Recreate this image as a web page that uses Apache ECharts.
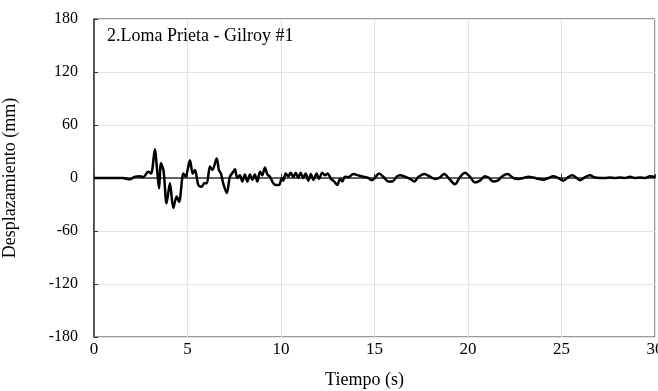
<!DOCTYPE html>
<html>
<head>
<meta charset="utf-8">
<script src="https://cdn.jsdelivr.net/npm/echarts@6/dist/echarts.min.js"></script>
<style>
  html, body { margin: 0; padding: 0; background: #fff; }
  #chart { width: 658px; height: 391px; }
</style>
</head>
<body>
<div id="chart"></div>
<script>
// tiempo (s) y desplazamiento (mm)
var tiempo = [0, 0.5, 1.0, 1.55, 1.9, 2.2, 2.46, 2.64, 2.9, 3.05, 3.26, 3.35, 3.48, 3.58, 3.72, 3.88, 4.06, 4.24, 4.42, 4.55, 4.78, 4.9, 5.13, 5.28, 5.4, 5.58, 5.76, 5.9, 6.03, 6.2, 6.33, 6.56, 6.68, 6.79, 6.91, 7.1, 7.27, 7.45, 7.54, 7.66, 7.8, 7.93, 8.07, 8.2, 8.34, 8.47, 8.6, 8.73, 8.88, 9.0, 9.14, 9.27, 9.41, 9.59, 9.73, 9.9, 10.04, 10.12, 10.25, 10.39, 10.52, 10.66, 10.79, 10.92, 11.05, 11.19, 11.32, 11.46, 11.6, 11.73, 11.91, 12.03, 12.21, 12.35, 12.5, 12.67, 12.85, 13.01, 13.16, 13.28, 13.42, 13.6, 13.87, 14.13, 14.4, 14.67, 14.85, 15.02, 15.24, 15.47, 15.74, 15.95, 16.19, 16.36, 16.63, 16.9, 17.13, 17.34, 17.66, 17.97, 18.24, 18.45, 18.73, 19.04, 19.3, 19.57, 19.84, 20.1, 20.37, 20.64, 20.9, 21.1, 21.35, 21.59, 21.8, 22.12, 22.42, 22.69, 22.96, 23.23, 23.5, 23.76, 24.03, 24.3, 24.56, 24.83, 25.1, 25.36, 25.58, 25.81, 25.99, 26.26, 26.52, 26.79, 27.06, 27.33, 27.59, 27.86, 28.13, 28.4, 28.66, 28.93, 29.2, 29.47, 29.73, 30];
var desplazamiento = [0, 0, 0, 0, -1.5, 1.5, 2, 1, 7, 5, 32.5, 15, -12, 16.6, 8, -28.7, -6, -34, -21, -27, 5, 1.5, 20, 5, 9, -8, -10, -6, -6, 13, 9, 22, 9, 5, -6, -17, 1.5, 7, 10, 0, 3, -4, 4, -4, 4, -2, 4, -4, 7, 3, 12, 4, 1.5, -6, -8, -8, 0, -3, 5, 2, 6, 1, 6, 0, 6, 0, 5, -3, 4.5, -2, 5, -1, 6, 3, 5, -1, -4, -8, -1, -4, 1.5, 1, 4.5, 3, 1.5, 0, -2.5, 0, 5, 1.5, -4, -4, 1.5, 3, 1.5, -1, -4, 1, 4.5, 1.5, -1, 0, 4.5, -2, -7, 1, 6, 1.5, -5, -3, 2, 0.5, -4, -3, 1.5, 4.5, 0, -1, 0, 1.5, 0.5, -1, -2, 0, 2, 0, -3, 1, 3, 0, -2.5, 1, 3, 0.5, 0, 0, 0.5, 0, 0.5, 0, 1.5, 0, 0.5, 0, 2, 1.5];
var yTicks = [-180, -120, -60, 0, 60, 120, 180];
var xTicks = [0, 5, 10, 15, 20, 25, 30];

var puntos = tiempo.map(function (t, i) { return [t, desplazamiento[i]]; });
var fuente = 'Liberation Serif, Times New Roman, serif';

var chart = echarts.init(document.getElementById('chart'));
chart.setOption({
  animation: false,
  backgroundColor: '#fff',
  title: {
    text: '2.Loma Prieta - Gilroy #1',
    left: 102, top: 22,
    textStyle: { fontFamily: fuente, fontSize: 18, fontWeight: 'normal', color: '#000' }
  },
  grid: {
    left: 94, right: 3, top: 19, bottom: 54,
    outerBoundsMode: 'none', containLabel: false,
    show: true, borderColor: '#333', borderWidth: 1
  },
  xAxis: {
    type: 'value',
    min: xTicks[0], max: xTicks[xTicks.length - 1], interval: 5,
    name: 'Tiempo (s)', nameLocation: 'middle', nameGap: 34,
    nameTextStyle: { fontFamily: fuente, fontSize: 18, color: '#000', padding: [0, 20, 0, 0] },
    axisLine: { lineStyle: { color: '#333', width: 1.5 } },
    axisTick: { inside: true, length: 4, lineStyle: { color: '#333' } },
    axisLabel: { fontFamily: fuente, fontSize: 17, color: '#000', margin: 4 },
    splitLine: { show: true, lineStyle: { color: '#e3e3e3', width: 1 } }
  },
  yAxis: {
    type: 'value',
    min: yTicks[0], max: yTicks[yTicks.length - 1], interval: 60,
    name: 'Desplazamiento (mm)', nameLocation: 'middle', nameGap: 75,
    nameTextStyle: { fontFamily: fuente, fontSize: 18, color: '#000' },
    axisLine: { show: true, lineStyle: { color: '#333', width: 1.5 } },
    axisTick: { show: true, inside: true, length: 4, lineStyle: { color: '#333' } },
    axisLabel: { fontFamily: fuente, fontSize: 16, color: '#000', margin: 16, padding: [0, 0, 10, 0] },
    splitLine: { show: true, lineStyle: { color: '#e3e3e3', width: 1 } }
  },
  series: [{
    type: 'line',
    data: puntos,
    showSymbol: false,
    smooth: 0.3,
    lineStyle: { color: '#000', width: 2.5 }
  }]
});
</script>
</body>
</html>
